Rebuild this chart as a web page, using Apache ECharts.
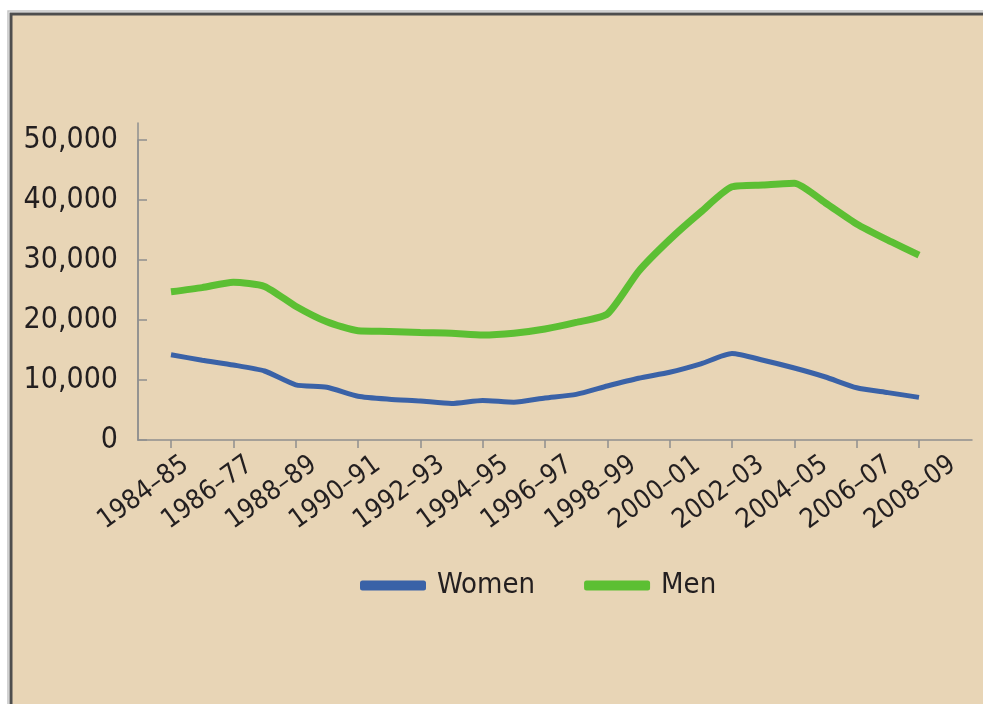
<!DOCTYPE html>
<html>
<head>
<meta charset="utf-8">
<script src="https://cdn.jsdelivr.net/npm/echarts@6/dist/echarts.min.js"></script>
<style>
  html, body { margin: 0; padding: 0; background: #ffffff; }
  #chart { width: 983px; height: 704px; }
</style>
</head>
<body>
<div id="chart"></div>
<script>
// Academic years (the third label is printed as "1986–77")
const categories = [
  '1984–85', '1985–86', '1986–77', '1987–88', '1988–89', '1989–90', '1990–91',
  '1991–92', '1992–93', '1993–94', '1994–95', '1995–96', '1996–97', '1997–98',
  '1998–99', '1999–00', '2000–01', '2001–02', '2002–03', '2003–04', '2004–05',
  '2005–06', '2006–07', '2007–08', '2008–09'
];

const women = [
  14200, 13300, 12500, 11500, 9200, 8800, 7300, 6800, 6500, 6100, 6600, 6300,
  7000, 7600, 9000, 10300, 11300, 12700, 14400, 13300, 12000, 10500, 8700, 7900, 7100
];

const men = [
  24700, 25400, 26300, 25600, 22300, 19700, 18200, 18100, 17900, 17800, 17500, 17800,
  18500, 19600, 21000, 28100, 33400, 38000, 42200, 42500, 42800, 39500, 36000, 33300, 30800
];

const yTicks = { min: 0, max: 50000, step: 10000 };

const FONT = '"DejaVu Sans Condensed", "DejaVu Sans", sans-serif';
const INK = '#231f20';
const AXIS = '#8f8f8f';
const BG = '#e8d5b6';

const chart = echarts.init(document.getElementById('chart'), null, { renderer: 'canvas' });

const fmt = v => v === 0 ? '0' : v.toLocaleString('en-US');

chart.setOption({
  animation: false,
  backgroundColor: '#ffffff',
  graphic: [
    { type: 'rect', z: -10, shape: { x: 8, y: 11, width: 1100, height: 800 },
      style: { fill: 'none', stroke: '#c4c4c4', lineWidth: 1.5 } },
    { type: 'rect', z: -9, shape: { x: 11, y: 14, width: 1100, height: 800 },
      style: { fill: BG, stroke: '#4e4e4e', lineWidth: 3 } }
  ],
  grid: [
    // plotting area: first and last year sit on the grid edges
    { left: 171, right: 64, top: 140, bottom: 264 },
    // outer axis frame that runs past the data on both ends
    { left: 138, right: 11, top: 123, bottom: 264 },
    // rotated year labels
    { left: 186, right: 30, top: 140, bottom: 264 }
  ],
  xAxis: [
    {
      gridIndex: 0, type: 'category', data: categories, boundaryGap: false,
      axisLine: { show: false },
      axisTick: { show: true, interval: 1, length: 8, lineStyle: { color: AXIS, width: 1.5 } },
      axisLabel: { show: false },
      splitLine: { show: false }
    },
    {
      gridIndex: 1, type: 'value', min: 0, max: 1,
      axisLine: { show: true, lineStyle: { color: AXIS, width: 1.5 } },
      axisTick: { show: false }, axisLabel: { show: false }, splitLine: { show: false }
    },
    {
      gridIndex: 2, type: 'category', data: categories, boundaryGap: false,
      axisLine: { show: false }, axisTick: { show: false }, splitLine: { show: false },
      axisLabel: {
        show: true, interval: 1, rotate: 36, margin: 22,
        fontFamily: FONT, fontSize: 27, color: INK
      }
    }
  ],
  yAxis: [
    {
      gridIndex: 0, type: 'value', min: yTicks.min, max: yTicks.max, interval: yTicks.step,
      offset: 33,
      axisLine: { show: true, lineStyle: { color: AXIS, width: 1.5 } },
      axisTick: { show: true, inside: true, length: 9, lineStyle: { color: AXIS, width: 1.5 } },
      axisLabel: { margin: 20, fontFamily: FONT, fontSize: 30, color: INK, formatter: fmt },
      splitLine: { show: false }
    },
    {
      gridIndex: 1, type: 'value', min: 0, max: 1,
      axisLine: { show: true, lineStyle: { color: AXIS, width: 1.5 } },
      axisTick: { show: false }, axisLabel: { show: false }, splitLine: { show: false }
    },
    {
      gridIndex: 2, type: 'value', show: false
    }
  ],
  legend: {
    left: 355, top: 566,
    itemWidth: 66, itemHeight: 10, itemGap: 49,
    icon: 'roundRect',
    textStyle: { fontFamily: FONT, fontSize: 29, color: INK, padding: [0, 0, 0, 6] },
    data: ['Women', 'Men']
  },
  series: [
    {
      name: 'Women', type: 'line', xAxisIndex: 0, yAxisIndex: 0,
      data: women, showSymbol: false, symbol: 'none', smooth: 0.2,
      lineStyle: { color: '#3a62a7', width: 5 },
      itemStyle: { color: '#3a62a7' }
    },
    {
      name: 'Men', type: 'line', xAxisIndex: 0, yAxisIndex: 0,
      data: men, showSymbol: false, symbol: 'none', smooth: 0.2,
      lineStyle: { color: '#5cbf33', width: 7 },
      itemStyle: { color: '#5cbf33' }
    }
  ]
});
</script>
</body>
</html>
